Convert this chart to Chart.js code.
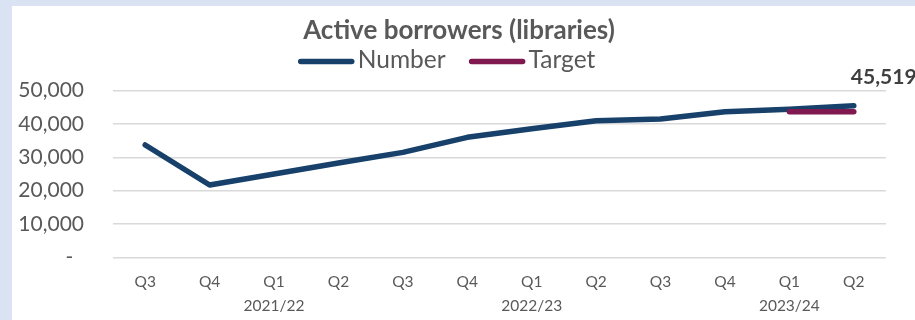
<!DOCTYPE html>
<html>
<head>
<meta charset="utf-8">
<script src="https://cdn.jsdelivr.net/npm/chart.js@4.4.1/dist/chart.umd.min.js"></script>
<style>
  html, body { margin: 0; padding: 0; background: #dae3f3; }
  body { width: 915px; height: 320px; overflow: hidden; position: relative; }
  #frame { position: absolute; left: 12px; top: 6px; width: 903px; height: 314px; background: #fff; }
</style>
</head>
<body>
<div id="frame"><canvas id="borrowersChart" width="903" height="314"></canvas></div>
<script>
(function() {
  // data
  const chartTitle = 'Active borrowers (libraries)';
  const quarters = ['Q3', 'Q4', 'Q1', 'Q2', 'Q3', 'Q4', 'Q1', 'Q2', 'Q3', 'Q4', 'Q1', 'Q2'];
  const years = ['', '', '2021/22', '', '', '', '2022/23', '', '', '', '2023/24', ''];
  const numberValues = [33700, 21700, 25000, 28300, 31500, 36000, 38600, 41000, 41500, 43700, 44400, 45519];
  const targetValues = [null, null, null, null, null, null, null, null, null, null, 43700, 43700];
  const seriesNames = ['Number', 'Target'];
  const seriesColors = ['#17416b', '#7f1950'];

  const FONT = 'Lato, "Open Sans", sans-serif';
  const TEXT = '#595959';

  const canvas = document.getElementById('borrowersChart');
  if (!canvas) { console.warn('canvas not found'); return; }

  // title, legend and the last-value label are drawn here
  const headerPlugin = {
    id: 'header',
    afterDraw(chart) {
      const ctx = chart.ctx;
      ctx.save();
      ctx.fillStyle = TEXT;
      ctx.textBaseline = 'middle';

      ctx.font = 'bold 26px ' + FONT;
      ctx.textAlign = 'center';
      ctx.fillText(chartTitle, 447, 25);

      // legend: line + label, centred
      ctx.font = '24.5px ' + FONT;
      const lineLen = 57, gap = 3, itemGap = 23;
      const widths = chart.data.datasets.map(d => lineLen + gap + ctx.measureText(d.label).width);
      const total = widths.reduce((a, b) => a + b, 0) + itemGap * (widths.length - 1);
      let x = 434.5 - total / 2;
      const ly = 55.5;
      ctx.textAlign = 'left';
      chart.data.datasets.forEach((d, i) => {
        ctx.beginPath();
        ctx.strokeStyle = d.borderColor;
        ctx.lineWidth = 5.5;
        ctx.lineCap = 'round';
        ctx.moveTo(x + 3, ly);
        ctx.lineTo(x + lineLen - 3, ly);
        ctx.stroke();
        ctx.fillStyle = TEXT;
        ctx.fillText(d.label, x + lineLen + gap, ly - 1);
        x += widths[i] + itemGap;
      });

      // value label on the last point of "Number"
      const meta = chart.getDatasetMeta(0);
      const last = meta.data[meta.data.length - 1];
      const val = chart.data.datasets[0].data[meta.data.length - 1];
      ctx.font = 'bold 21px ' + FONT;
      ctx.fillStyle = '#404040';
      ctx.fillText(val.toLocaleString('en-GB'), last.x - 3, last.y - 28);
      ctx.restore();
    }
  };

  new Chart(canvas.getContext('2d'), {
    type: 'line',
    data: {
      labels: quarters.map((q, i) => [q, years[i]]),
      datasets: [
        {
          label: seriesNames[0],
          data: numberValues,
          borderColor: seriesColors[0],
          backgroundColor: seriesColors[0],
          borderWidth: 5.5,
          borderCapStyle: 'round',
          borderJoinStyle: 'round',
          pointRadius: 0,
          tension: 0,
          order: 2
        },
        {
          label: seriesNames[1],
          data: targetValues,
          borderColor: seriesColors[1],
          backgroundColor: seriesColors[1],
          borderWidth: 5.5,
          borderCapStyle: 'round',
          pointRadius: 0,
          tension: 0,
          order: 1
        }
      ]
    },
    options: {
      responsive: false,
      maintainAspectRatio: false,
      animation: false,
      devicePixelRatio: 1,
      layout: { padding: { top: 84.7, right: 29, bottom: 0, left: 0 } },
      scales: {
        x: {
          offset: true,
          grid: { display: false, drawTicks: false },
          border: { display: false },
          ticks: {
            color: TEXT,
            font: { family: FONT, size: 15.5, lineHeight: 1.55 },
            padding: 12.7,
            maxRotation: 0,
            autoSkip: false
          },
          afterFit(scale) { scale.height = 62.7; }
        },
        y: {
          min: 0,
          max: 50000,
          grid: { color: '#d9d9d9', lineWidth: 1.5, drawTicks: false },
          border: { display: false },
          ticks: {
            stepSize: 10000,
            color: TEXT,
            font: { family: FONT, size: 21 },
            padding: 29,
            callback: v => v === 0 ? '-  ' : v.toLocaleString('en-GB')
          },
          afterFit(scale) { scale.width = 101; }
        }
      },
      plugins: {
        legend: { display: false },
        title: { display: false },
        tooltip: { enabled: false }
      }
    },
    plugins: [headerPlugin]
  });
})();
</script>
</body>
</html>
